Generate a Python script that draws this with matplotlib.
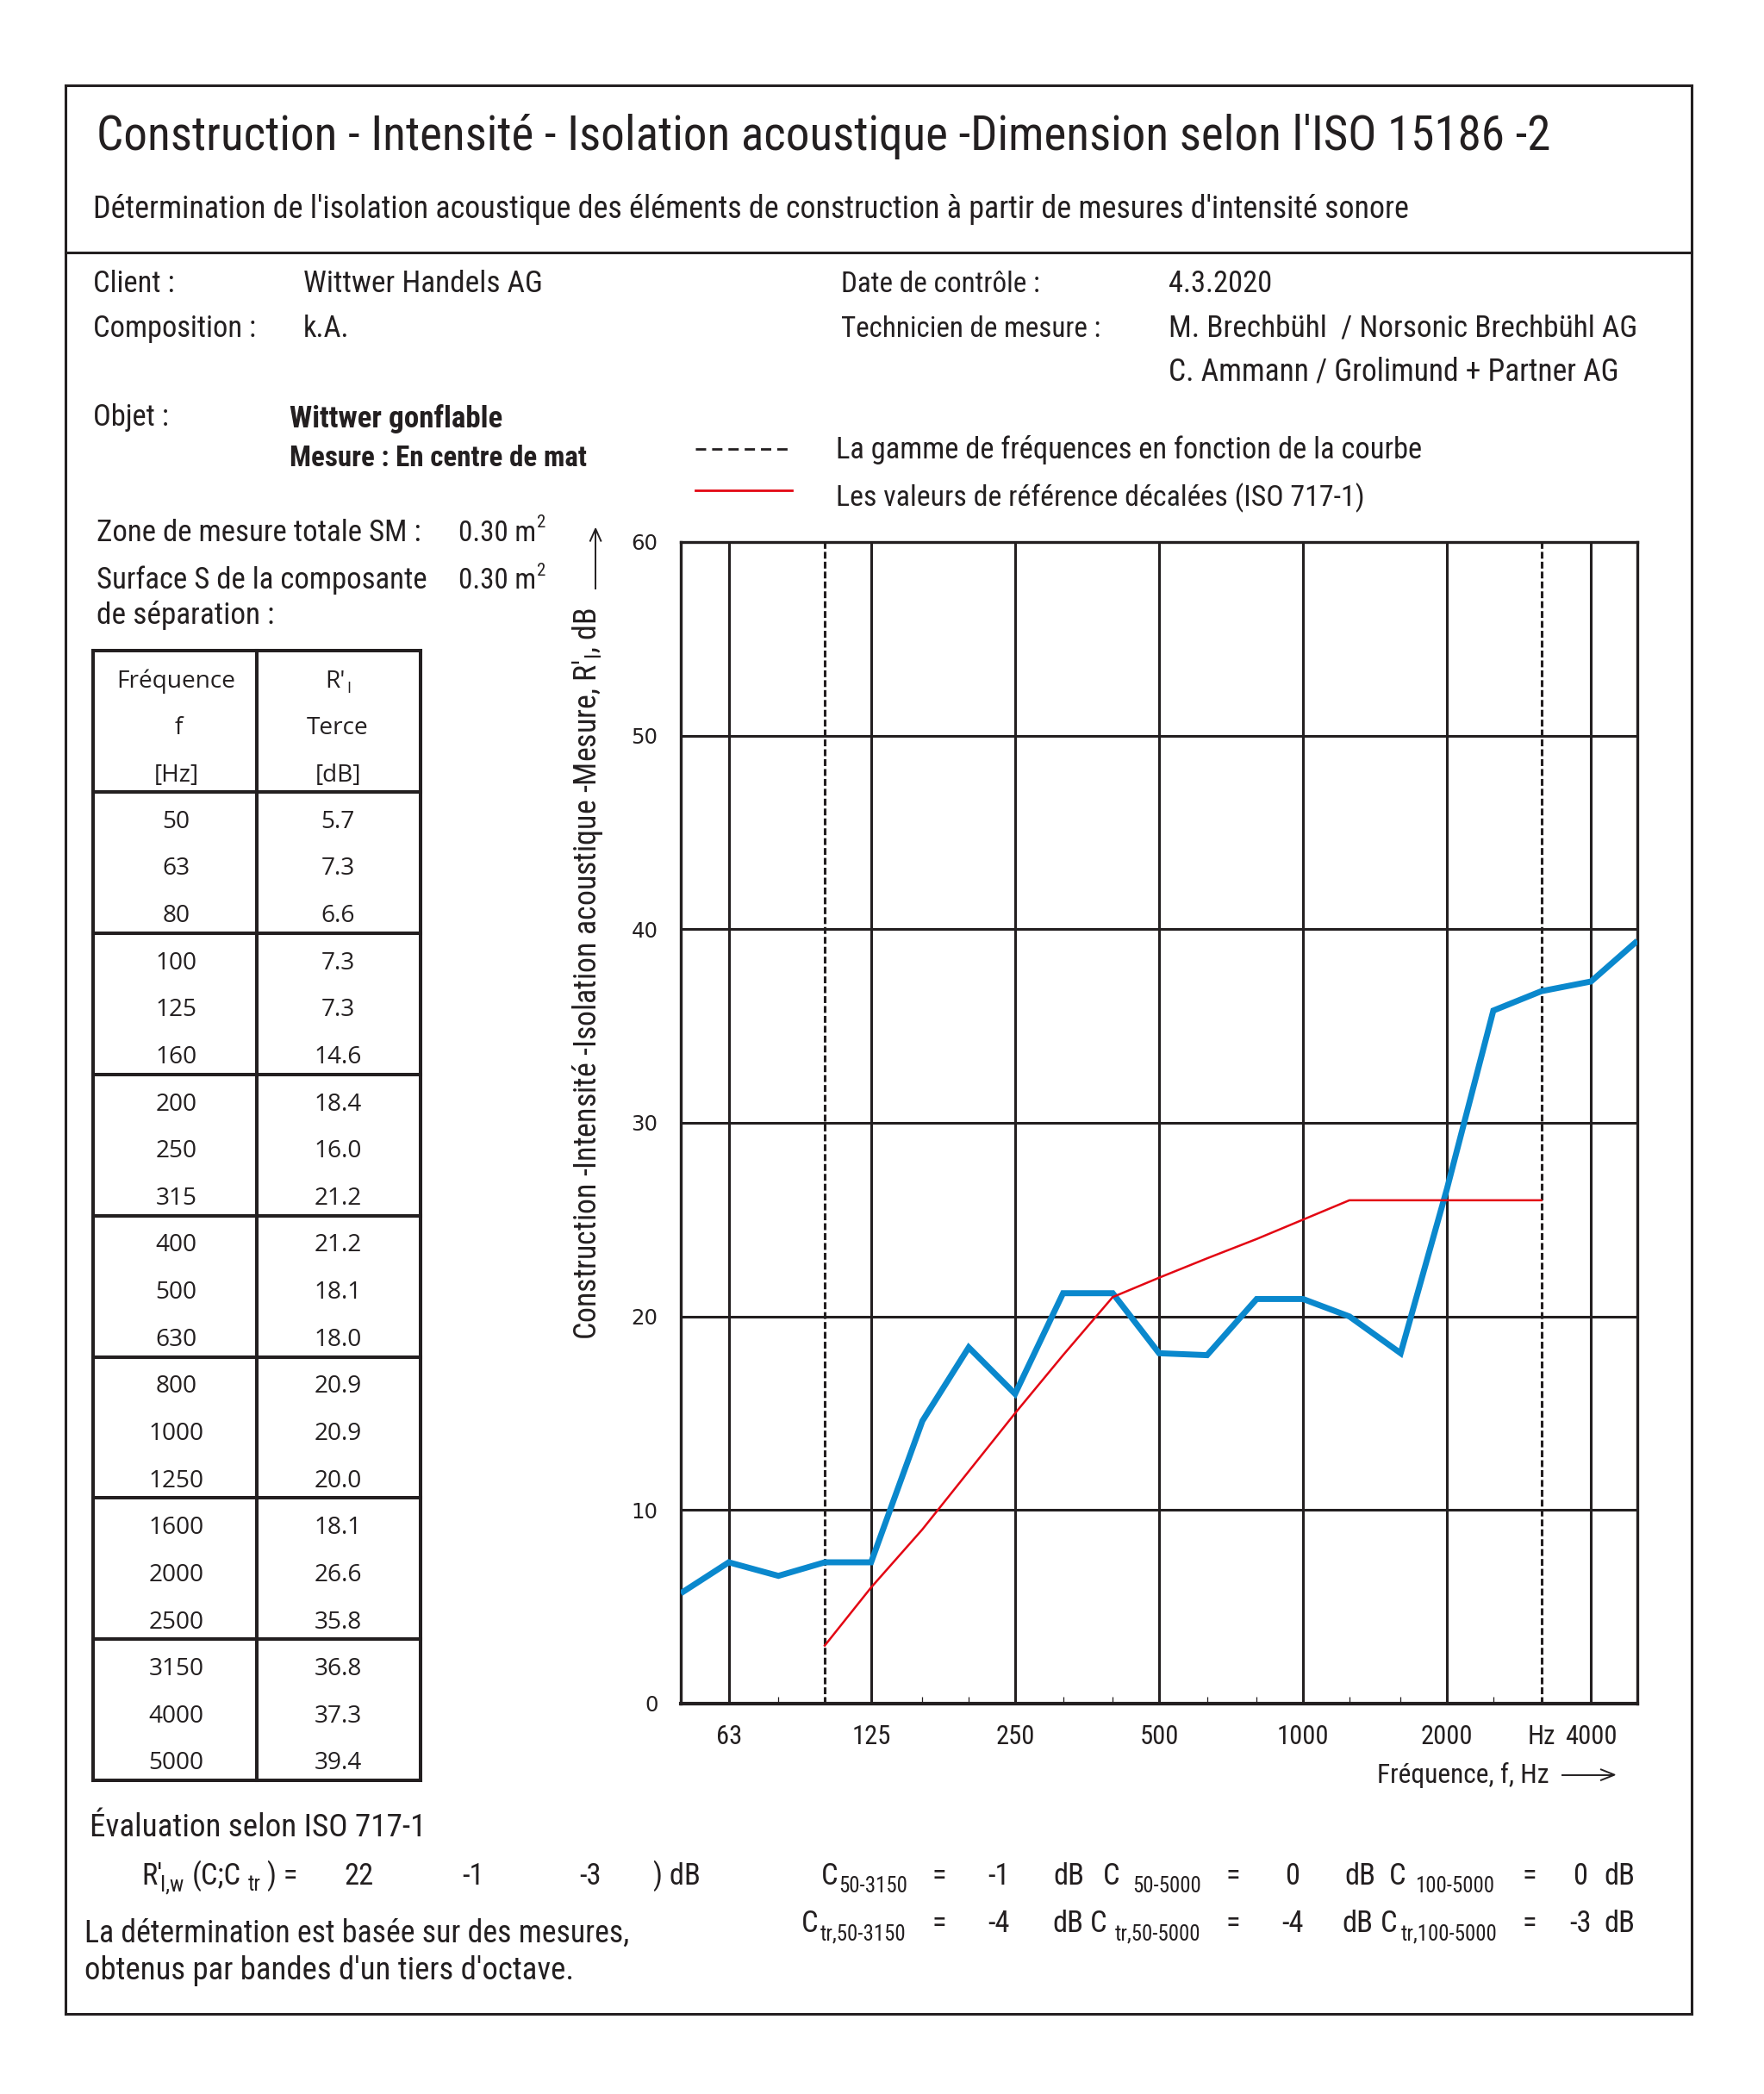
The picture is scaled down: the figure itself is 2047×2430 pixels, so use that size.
import matplotlib
matplotlib.use("Agg")
import matplotlib.pyplot as plt
from matplotlib import font_manager as fm
from matplotlib.lines import Line2D

# ---------------- data ----------------
freqs = [50, 63, 80, 100, 125, 160, 200, 250, 315, 400, 500, 630, 800,
         1000, 1250, 1600, 2000, 2500, 3150, 4000, 5000]
r_measured = [5.7, 7.3, 6.6, 7.3, 7.3, 14.6, 18.4, 16.0, 21.2, 21.2, 18.1,
              18.0, 20.9, 20.9, 20.0, 18.1, 26.6, 35.8, 36.8, 37.3, 39.4]
ref_freqs = [100, 125, 160, 200, 250, 315, 400, 500, 630, 800, 1000, 1250,
             1600, 2000, 2500, 3150]
ref_shifted = [3, 6, 9, 12, 15, 18, 21, 22, 23, 24, 25, 26, 26, 26, 26, 26]
range_limits = [100, 3150]
octave_lines = [63, 125, 250, 500, 1000, 2000, 4000]
xtick_pos = [63, 125, 250, 500, 1000, 2000, 3150, 4000]
xtick_labels = ["63", "125", "250", "500", "1000", "2000", "Hz", "4000"]
minor_ticks = [80, 100, 160, 200, 315, 400, 630, 800, 1250, 1600, 2500, 3150]
y_ticks = [0, 10, 20, 30, 40, 50, 60]
rating = ["22", "-1", "-3"]
c_row = ["-1", "0", "0"]
ctr_row = ["-4", "-4", "-3"]

# ---------------- fonts ----------------
ttf = fm.fontManager.ttflist
names = {f.name for f in ttf}


def pick(cands, default=None):
    for c in cands:
        if c in names:
            return c
    return default


COND = pick(["Liberation Sans Narrow", "Roboto Condensed", "Open Sans Condensed",
             "Noto Sans Condensed", "Arial Narrow"])
COND_STRETCH = "normal"
if COND is None:
    for fam in ["Noto Sans", "Open Sans", "Roboto"]:
        if any(f.name == fam and str(f.stretch) in ("condensed", "semi-condensed",
                                                     "extra-condensed") for f in ttf):
            COND, COND_STRETCH = fam, "condensed"
            break
if COND is None:
    COND = pick(["Roboto", "Lato", "Open Sans"], "DejaVu Sans")
REG = pick(["Open Sans", "Noto Sans", "Lato", "Roboto"], "DejaVu Sans")

INK = "#231f20"
BLUE = "#0a88cd"
RED = "#e30613"

W0, H0 = 1321.0, 1568.0
SX = 2047.0 / 1321.0

fig = plt.figure(figsize=(20.47, 24.30), dpi=100)
renderer = fig.canvas.get_renderer()


def fx(x):
    return x / W0


def fy(y):
    return 1.0 - y / H0


def put(x, y, s, size=16, fit=None, family=None, stretch=None, weight="normal",
        ha="left", va="baseline", rotation=0, color=INK):
    fam = family or COND
    st = stretch or (COND_STRETCH if fam == COND else "normal")
    t = fig.text(fx(x), fy(y), s, fontsize=size, family=fam, fontstretch=st,
                 weight=weight, ha=ha, va=va, rotation=rotation, color=color)
    if fit is not None:
        bb = t.get_window_extent(renderer)
        cur = bb.height if rotation == 90 else bb.width
        t.set_fontsize(size * fit * SX / cur)
    return t


def fitsize(s, width, family, weight="normal", stretch="normal"):
    t = fig.text(0, 0, s, fontsize=20, family=family, weight=weight, fontstretch=stretch)
    bb = t.get_window_extent(renderer)
    t.remove()
    return 20 * width * SX / bb.width


def hline(x0, x1, y, lw=2.2, color=INK, **kw):
    fig.add_artist(Line2D([fx(x0), fx(x1)], [fy(y), fy(y)], transform=fig.transFigure,
                          lw=lw, color=color, solid_capstyle="projecting", **kw))


def vline(x, y0, y1, lw=2.2, color=INK, **kw):
    fig.add_artist(Line2D([fx(x), fx(x)], [fy(y0), fy(y1)], transform=fig.transFigure,
                          lw=lw, color=color, solid_capstyle="projecting", **kw))


# ---------------- frame ----------------
hline(49, 1267, 64)
hline(49, 1267, 1508)
vline(49, 64, 1508)
vline(1267, 64, 1508)
hline(49, 1267, 189)

# ---------------- header texts ----------------
put(72, 112, "Construction - Intensité - Isolation acoustique -Dimension selon l'ISO 15186 -2",
    size=30, fit=1090)
put(70, 163, "Détermination de l'isolation acoustique des éléments de construction à partir "
    "de mesures d'intensité sonore", size=16, fit=986)

BODY = fitsize("La gamme de fréquences en fonction de la courbe", 439, COND,
               stretch=COND_STRETCH)

put(70, 219, "Client :", BODY)
put(227, 219, "Wittwer Handels AG", BODY, fit=179)
put(70, 252, "Composition :", BODY)
put(227, 252, "k.A.", BODY)
put(630, 219, "Date de contrôle :", BODY, fit=149)
put(875, 219, "4.3.2020", BODY)
put(630, 252, "Technicien de mesure :", BODY, fit=194)
put(875, 252, "M. Brechbühl  / Norsonic Brechbühl AG", BODY, fit=351)
put(875, 285, "C. Ammann / Grolimund + Partner AG", BODY, fit=338)
put(70, 319, "Objet :", BODY)
put(217, 320, "Wittwer gonflable", BODY, fit=160, weight="bold")
put(217, 349, "Mesure : En centre de mat", BODY, fit=223, weight="bold")

# legend
fig.add_artist(Line2D([fx(521), fx(593)], [fy(336), fy(336)], transform=fig.transFigure,
                      lw=2.0, color=INK, dashes=(4.3, 2.5)))
fig.add_artist(Line2D([fx(521), fx(593)], [fy(367), fy(367)], transform=fig.transFigure,
                      lw=2.0, color=RED))
put(626, 343, "La gamme de fréquences en fonction de la courbe", BODY, fit=439)
put(626, 379, "Les valeurs de référence décalées (ISO 717-1)", BODY, fit=395)

put(72, 405, "Zone de mesure totale SM :", BODY, fit=243)
put(343, 405, "0.30 m", BODY, fit=58)
put(402, 395, "2", BODY * 0.6)
put(72, 441, "Surface S de la composante", BODY, fit=247)
put(343, 441, "0.30 m", BODY, fit=58)
put(402, 431, "2", BODY * 0.6)
put(72, 467, "de séparation :", BODY, fit=133)

# ---------------- table ----------------
TX0, TX1, TXM = 70, 315, 192
TLW = 2.9
group_y = [487, 593, 698.75, 804.5, 910.25, 1016, 1121.75, 1227.5, 1333.25]
for gy in group_y:
    hline(TX0, TX1, gy, lw=TLW)
for vx in (TX0, TXM, TX1):
    vline(vx, group_y[0], group_y[-1], lw=TLW)

TSZ = fitsize("Fréquence", 89, REG)
c1, c2 = 132, 253
put(c1, 515, "Fréquence", TSZ, family=REG, ha="center")
put(c1 + 2, 550, "f", TSZ, family=REG, ha="center")
put(c1, 585, "[Hz]", TSZ, family=REG, ha="center")
put(c2 - 2, 515, "R'", TSZ, family=REG, ha="center")
put(c2 + 8, 519, "I", TSZ * 0.65, family=REG, ha="center")
put(c2, 550, "Terce", TSZ, family=REG, ha="center")
put(c2, 585, "[dB]", TSZ, family=REG, ha="center")
for i, (f, r) in enumerate(zip(freqs, r_measured)):
    yb = 620 + 35.25 * i
    put(c1, yb, str(f), TSZ, family=REG, ha="center")
    put(c2, yb, f"{r:.1f}", TSZ, family=REG, ha="center")

# ---------------- plot ----------------
L, R, T, B = 790, 1900, 629, 1977  # full-resolution pixel frame
ax = fig.add_axes([L / 2047, 1 - B / 2430, (R - L) / 2047, (B - T) / 2430])
ax.set_xscale("log")
ax.set_xlim(50, 5000)
ax.set_ylim(0, 60)

for f in octave_lines:
    ax.axvline(f, color=INK, lw=2.2, zorder=1)
for f in range_limits:
    ax.axvline(f, color=INK, lw=2.2, dashes=(2.6, 1.15), zorder=1)
for yv in y_ticks[1:-1]:
    ax.axhline(yv, color=INK, lw=2.2, zorder=1)

ax.plot(freqs, r_measured, color=BLUE, lw=5.0, zorder=3, solid_joinstyle="miter",
        solid_capstyle="butt")
ax.plot(ref_freqs, ref_shifted, color=RED, lw=1.8, zorder=4)

for sp in ax.spines.values():
    sp.set_linewidth(2.4)
    sp.set_color(INK)
ax.spines["bottom"].set_linewidth(3.0)

ax.set_xticks(xtick_pos)
ax.set_xticklabels(xtick_labels)
ax.set_xticks(minor_ticks, minor=True)
ax.set_xticklabels([], minor=True)
ax.tick_params(axis="x", which="major", length=0, pad=17)
ax.tick_params(axis="x", which="minor", direction="in", length=6, width=0.9, color=INK)
XSZ = fitsize("1000", 39, COND, stretch=COND_STRETCH)
for lab in ax.get_xticklabels():
    lab.set_fontsize(XSZ)
    lab.set_family(COND)
    lab.set_fontstretch(COND_STRETCH)
    lab.set_color(INK)

ax.set_yticks(y_ticks)
ax.set_yticklabels([str(v) for v in y_ticks])
ax.tick_params(axis="y", length=0, pad=19)
YSZ = fitsize("60", 20, "DejaVu Sans")
for lab in ax.get_yticklabels():
    lab.set_fontsize(YSZ)
    lab.set_family("DejaVu Sans")
    lab.set_color(INK)

# axis titles
put(440, 729, "Construction -Intensité -Isolation acoustique -Mesure, R'$_\\mathregular{I}$, dB",
    BODY, fit=548, ha="center", va="center", rotation=90)
fig.add_artist(Line2D([fx(446), fx(446)], [fy(441), fy(397)], transform=fig.transFigure,
                      lw=1.4, color=INK))
fig.add_artist(Line2D([fx(442), fx(446), fx(450)], [fy(405), fy(396), fy(405)],
                      transform=fig.transFigure, lw=1.4, color=INK))
put(1031, 1335, "Fréquence, f, Hz", BODY, fit=129)
fig.add_artist(Line2D([fx(1170), fx(1208)], [fy(1329), fy(1329)], transform=fig.transFigure,
                      lw=1.4, color=INK))
fig.add_artist(Line2D([fx(1199), fx(1209), fx(1199)], [fy(1325), fy(1329), fy(1333)],
                      transform=fig.transFigure, lw=1.4, color=INK))

# ---------------- evaluation ----------------
put(67, 1375, "Évaluation selon ISO 717-1", BODY, fit=252)
SUB = BODY * 0.72
by1, by2 = 1411, 1447
put(106, by1, "R'", BODY)
put(120, by1 + 5, "I,w", SUB)
put(144, by1, "(C;C", BODY)
put(186, by1 + 5, "tr", SUB)
put(200, by1, ") =", BODY)
put(258, by1, rating[0], BODY)
put(346, by1, rating[1], BODY)
put(434, by1, rating[2], BODY)
put(489, by1, ") dB", BODY)

row1 = [("C", 615, False), ("50-3150", 628, True), ("=", 698, False), (c_row[0], 740, False),
        ("dB", 789, False), ("C", 826, False), ("50-5000", 848, True), ("=", 918, False),
        (c_row[1], 962, False), ("dB", 1007, False), ("C", 1040, False),
        ("100-5000", 1060, True), ("=", 1140, False), (c_row[2], 1178, False),
        ("dB", 1201, False)]
row2 = [("C", 600, False), ("tr,50-3150", 614, True), ("=", 698, False),
        (ctr_row[0], 740, False), ("dB", 788, False), ("C", 816, False),
        ("tr,50-5000", 835, True), ("=", 918, False), (ctr_row[1], 960, False),
        ("dB", 1005, False), ("C", 1034, False), ("tr,100-5000", 1049, True),
        ("=", 1140, False), (ctr_row[2], 1175, False), ("dB", 1201, False)]
for row, yb in ((row1, by1), (row2, by2)):
    for s, x, sub in row:
        if sub:
            put(x, yb + 6, s, SUB)
        else:
            put(x, yb, s, BODY)

put(63, 1454, "La détermination est basée sur des mesures,", BODY, fit=407)
put(63, 1482, "obtenus par bandes d'un tiers d'octave.", BODY, fit=366)

fig.savefig("out.png", dpi=100)
